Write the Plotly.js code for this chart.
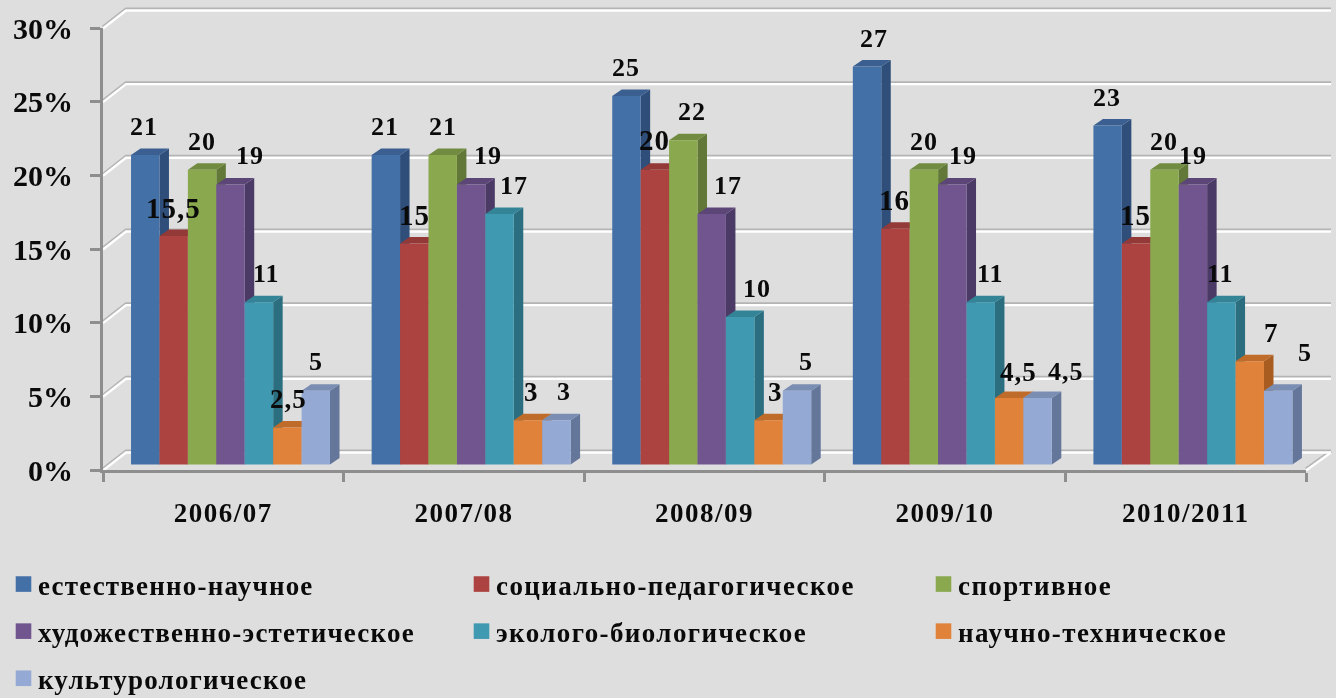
<!DOCTYPE html>
<html><head><meta charset="utf-8">
<script src="https://cdn.plot.ly/plotly-3.0.1.min.js"></script>
<style>
html,body{margin:0;padding:0;background:#dedede;overflow:hidden}
#c{width:1336px;height:698px;filter:blur(0.45px)}
.legendtext{letter-spacing:1.2px;transform:translateX(-5px)}
.legend2text,.legend3text{letter-spacing:1.4px;transform:translateX(-5px)}
.legendsymbols path{transform:translate(20.5px,0) scale(1.3)}
.x2tick text{letter-spacing:1.5px}
.annotation-text{letter-spacing:1px}
</style></head><body><div id="c"></div>
<script>
// ---- data ----
const years = ['2006/07','2007/08','2008/09','2009/10','2010/2011'];
const seriesNames = ['естественно-научное','социально-педагогическое','спортивное','художественно-эстетическое','эколого-биологическое','научно-техническое','культурологическое'];
const estestv = [21,21,25,27,23];
const socped  = [15.5,15,20,16,15];
const sport   = [20,21,22,20,20];
const hudozh  = [19,19,17,19,19];
const ekobio  = [11,17,10,11,11];
const nauchn  = [2.5,3,3,4.5,7];
const kultur  = [5,3,5,4.5,5];
const seriesValues = [estestv,socped,sport,hudozh,ekobio,nauchn,kultur];
const yTicks = [0,5,10,15,20,25,30];

// ---- styles ----
const front = ['#4470a8','#ac4341','#8aa84d','#70558f','#3f9ab1','#e0823a','#94a9d4'];
const side  = ['#2f4f7a','#7a2f2e','#617838','#4c3a66','#2b6e80','#a85c20','#64769a'];
const top_  = ['#3a5f90','#933a38','#718c40','#5c4678','#338497','#bf6c2a','#7a8eb4'];
const labelSize = [26,29,26,26,26,27,26];
// label nudges in px, by series then year: [dx, dy upward beyond the standard gap]
const nudgeX = [[-1,-1,0,7,-1],[0,0,0,-1,-1],[0,0,9,0,0],[19,17,16,11,0],[8,14,17,10,-1],[1,4,7,9,22],[0,8,9,28,27]];
const nudgeY = [[0,0,0,0,0],[0,0,1,0,0],[0,0,0,0,0],[0,0,0,0,0],[0,0,0,0,0],[0,0,0,-2,0],[1,0,1,-2,10]];

// ---- geometry ----
const W=1336,H=698,axL=103,axR=1306,axT=28,axB=470;
const pxX=(axR-axL)/5, pxY=(axB-axT)/30;
const wallDx=23/pxX, wallDy=18/pxY, wallEnd=5+25/pxX;
const barDx=9.5/pxX, barDy=6.5/pxY, base0=5.6/pxY;
const gap=0.173, bw=(1-gap)/7, shift=0.03;
const cx=(k,i)=>i+0.5+shift+(k-3)*bw;
const centers=years.map((_,i)=>i+0.5+shift);

const traces=[];
// walls
function gridTrace(off,color,width){
  const x=[],y=[];
  yTicks.forEach(v=>{x.push(0,wallDx,wallEnd,null);y.push(v+off,v+wallDy+off,v+wallDy+off,null);});
  x.push(5,wallEnd);y.push(0+off,wallDy+off);
  return {type:'scatter',mode:'lines',x,y,xaxis:'x',yaxis:'y',line:{color,width},hoverinfo:'skip',showlegend:false};
}
traces.push(gridTrace(0.06,'#b4b4b4',3.2));
traces.push(gridTrace(-0.03,'#ffffff',2.4));
// side and top faces
seriesValues.forEach((vals,k)=>{
  const sx=[],sy=[],tx=[],ty=[];
  vals.forEach((v,i)=>{
    const L=cx(k,i)-bw/2,R=cx(k,i)+bw/2,b=base0,t=v+base0;
    sx.push(R,R+barDx,R+barDx,R,R,null);sy.push(b,b+barDy,t+barDy,t,b,null);
    tx.push(L,R,R+barDx,L+barDx,L,null);ty.push(t,t,t+barDy,t+barDy,t,null);
  });
  traces.push({type:'scatter',mode:'lines',x:sx,y:sy,fill:'toself',fillcolor:side[k],line:{width:0,color:side[k]},xaxis:'x',yaxis:'y',hoverinfo:'skip',showlegend:false});
  traces.push({type:'scatter',mode:'lines',x:tx,y:ty,fill:'toself',fillcolor:top_[k],line:{width:0,color:top_[k]},xaxis:'x',yaxis:'y',hoverinfo:'skip',showlegend:false});
});
// front faces (the real bars)
const legendOf=['legend','legend2','legend3','legend','legend2','legend3','legend'];
seriesValues.forEach((vals,k)=>{
  traces.push({type:'bar',name:seriesNames[k],x:centers,y:vals,base:base0,xaxis:'x2',yaxis:'y2',
    marker:{color:front[k],line:{width:0}},legend:legendOf[k],legendgroup:'g'+k,hoverinfo:'name+y'});
});
// data labels
const annotations=[];
seriesValues.forEach((vals,k)=>vals.forEach((v,i)=>{
  annotations.push({xref:'x2',yref:'y2',x:cx(k,i),y:v+base0,text:String(v).replace('.',','),showarrow:false,
    xanchor:'center',yanchor:'middle',xshift:nudgeX[k][i],yshift:28.5+nudgeY[k][i],
    font:{family:'"Liberation Serif",serif',size:labelSize[k],color:'#0a0a0a',weight:700}});
}));
const legFont={family:'"Liberation Serif",serif',size:27,color:'#0a0a0a',weight:700};
const mkLeg=x=>({x:x/W,y:1-560/H,xanchor:'left',yanchor:'top',orientation:'v',bgcolor:'rgba(0,0,0,0)',borderwidth:0,
  font:legFont,tracegroupgap:9,itemclick:false,itemdoubleclick:false});
const axisGrey='#8e8e8e';
const layout={
  width:W,height:H,paper_bgcolor:'#dedede',plot_bgcolor:'rgba(0,0,0,0)',showlegend:true,
  margin:{l:0,r:0,t:0,b:0,autoexpand:false},barmode:'group',bargap:gap,bargroupgap:0,
  xaxis:{domain:[0,1],range:[-axL/pxX,(W-axL)/pxX],visible:false,fixedrange:true},
  yaxis:{domain:[0,1],range:[-(H-axB)/pxY,axB/pxY],visible:false,fixedrange:true},
  xaxis2:{domain:[axL/W,axR/W],range:[0,5],anchor:'y2',showgrid:false,zeroline:false,fixedrange:true,
    tickmode:'array',tickvals:years.map((_,i)=>i+0.5),ticktext:years,ticks:'',ticklabelstandoff:17,
    tickfont:{family:'"Liberation Serif",serif',size:27,color:'#0a0a0a',weight:700},
    showline:true,linecolor:axisGrey,linewidth:3,
    minor:{tickmode:'array',tickvals:[0,1,2,3,4,5],ticks:'outside',ticklen:9,tickwidth:3,tickcolor:axisGrey,showgrid:false}},
  yaxis2:{domain:[(H-axB)/H,(H-axT)/H],range:[0,30],anchor:'x2',showgrid:false,zeroline:false,fixedrange:true,
    tickmode:'array',tickvals:yTicks,ticktext:yTicks.map(v=>v+'%'),ticks:'outside',ticklen:10,tickwidth:3,tickcolor:axisGrey,
    ticklabelstandoff:11,tickfont:{family:'"Liberation Serif",serif',size:30,color:'#0a0a0a',weight:700},
    showline:true,linecolor:axisGrey,linewidth:3},
  legend:mkLeg(3),legend2:mkLeg(461),legend3:mkLeg(923),
  annotations
};
Plotly.newPlot('c',traces,layout,{displayModeBar:false});
</script></body></html>
